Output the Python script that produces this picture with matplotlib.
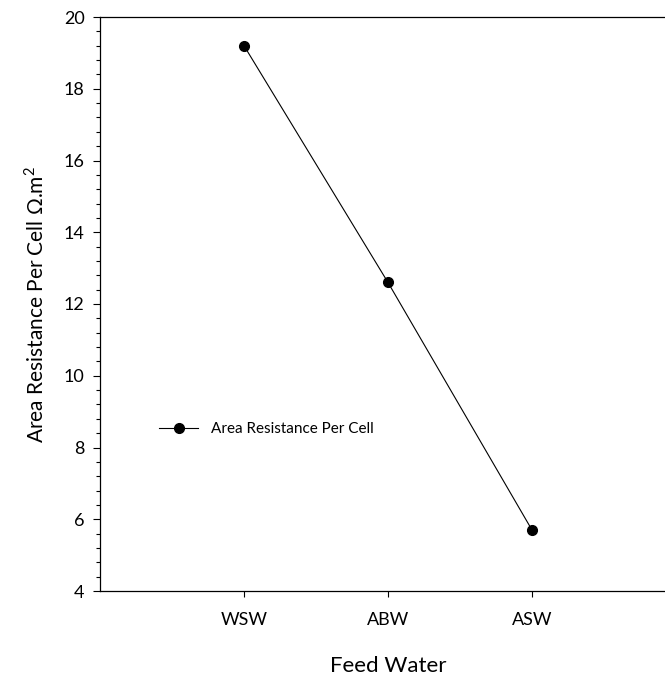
import matplotlib
matplotlib.use("Agg")
import matplotlib.pyplot as plt
from matplotlib.ticker import MultipleLocator

plt.rcParams['font.family'] = ['Lato', 'DejaVu Sans']
plt.rcParams['mathtext.fontset'] = 'custom'
plt.rcParams['mathtext.rm'] = 'Lato'

categories = ["WSW", "ABW", "ASW"]
resistance = [19.2, 12.6, 5.7]

fig = plt.figure(figsize=(6.65, 6.8), dpi=100)
# axes runs a little past the right edge, as in the original
ax = fig.add_axes([100 / 665, 89 / 680, 576 / 665, 574 / 680])

xs = list(range(1, len(categories) + 1))
ax.plot(xs, resistance, "-o", color="black", lw=0.8, ms=7,
        label="Area Resistance Per Cell")

ax.set_xlim(0, 4)
ax.set_ylim(4, 20)
ax.set_xticks(xs)
ax.set_xticklabels(categories, fontsize=13)
ax.yaxis.set_major_locator(MultipleLocator(2))
ax.yaxis.set_minor_locator(MultipleLocator(0.4))
ax.tick_params(axis="y", which="major", labelsize=13, length=5, width=0.8, pad=6)
ax.tick_params(axis="y", which="minor", length=3, width=0.8)
ax.tick_params(axis="x", which="major", length=4, width=0.8, pad=11)
ax.spines["right"].set_visible(False)
for s in ["left", "bottom", "top"]:
    ax.spines[s].set_linewidth(0.9)

ax.set_xlabel("Feed Water", fontsize=16, labelpad=20)
ax.set_ylabel("Area Resistance Per Cell \u03a9.m$^2$", fontsize=15, labelpad=12)

ax.legend(loc="center left", bbox_to_anchor=(0.078, 0.282), frameon=False,
          fontsize=11, handlelength=2.6, handletextpad=0.8)

fig.savefig("out.png", dpi=100)
